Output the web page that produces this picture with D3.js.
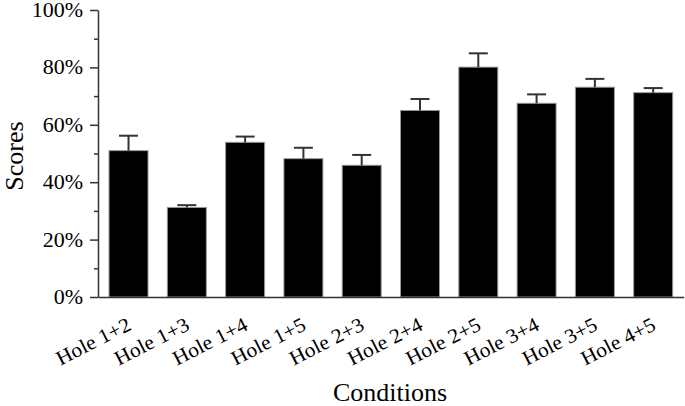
<!DOCTYPE html>
<html>
<head>
<meta charset="utf-8">
<script src="https://cdn.jsdelivr.net/npm/d3@7"></script>
<style>
html,body{margin:0;padding:0;background:#fff;}
svg text{font-family:"Times New Roman","Liberation Serif","DejaVu Serif",serif !important;fill:#000;}
</style>
</head>
<body>
<svg id="chart" width="685" height="406"></svg>
<script>
const categories = ["Hole 1+2","Hole 1+3","Hole 1+4","Hole 1+5","Hole 2+3","Hole 2+4","Hole 2+5","Hole 3+4","Hole 3+5","Hole 4+5"];
const scores = [0.51, 0.312, 0.539, 0.482, 0.459, 0.65, 0.801, 0.675, 0.731, 0.712];
const errors = [0.052, 0.008, 0.020, 0.038, 0.036, 0.040, 0.048, 0.031, 0.029, 0.016];
const yTicks = [0, 0.2, 0.4, 0.6, 0.8, 1.0];
const yMinorTicks = [0.1, 0.3, 0.5, 0.7, 0.9];

const FONT = "'Times New Roman', 'Liberation Serif', 'DejaVu Serif', serif";
const svg = d3.select("#chart");
const x0 = 98, x1 = 683.7, yBase = 297, yTop = 10;

const x = d3.scaleBand().domain(categories).range([x0, x1]).paddingInner(0.331).paddingOuter(0.189);
const y = d3.scaleLinear().domain([0, 1]).range([yBase, yTop]);

// bars
svg.append("g").selectAll("rect").data(categories).join("rect")
  .attr("x", d => x(d))
  .attr("y", (d,i) => y(scores[i]))
  .attr("width", x.bandwidth())
  .attr("height", (d,i) => y(0) - y(scores[i]))
  .attr("fill", "#000")
  .attr("stroke", "#999")
  .attr("stroke-width", 1);

// error bars
const eg = svg.append("g").attr("stroke", "#333").attr("stroke-width", 2);
categories.forEach((d,i) => {
  const cx = x(d) + x.bandwidth()/2;
  eg.append("line").attr("x1", cx).attr("x2", cx).attr("y1", y(scores[i])).attr("y2", y(scores[i]+errors[i]));
  eg.append("line").attr("x1", cx-9.5).attr("x2", cx+9.5).attr("y1", y(scores[i]+errors[i])).attr("y2", y(scores[i]+errors[i]));
});

// y axis
const yAxis = d3.axisLeft(y).tickValues(yTicks).tickSize(8).tickSizeOuter(0).tickPadding(6)
  .tickFormat(d => Math.round(d*100) + "%");
const ya = svg.append("g").attr("transform", `translate(${x0},0)`).call(yAxis);
ya.attr("font-family", FONT);
ya.select(".domain").attr("stroke", "#333").attr("stroke-width", 1.5);
ya.selectAll(".tick line").attr("stroke", "#333").attr("stroke-width", 1.5);
ya.selectAll(".tick text").attr("font-size", 20).style("font-family", FONT).attr("fill", "#000")
  .attr("x", 0).attr("transform", "translate(-15,0) scale(1.1,1)");
const yMinor = d3.axisLeft(y).tickValues(yMinorTicks).tickSize(4).tickSizeOuter(0).tickFormat("");
const ym = svg.append("g").attr("transform", `translate(${x0},0)`).call(yMinor);
ym.select(".domain").remove();
ym.selectAll(".tick line").attr("stroke", "#333").attr("stroke-width", 1.5);

// x axis
const xAxis = d3.axisBottom(x).tickSize(0).tickSizeOuter(0).tickPadding(0);
const xa = svg.append("g").attr("transform", `translate(0,${yBase})`).call(xAxis);
xa.attr("font-family", FONT);
xa.select(".domain").attr("stroke", "#333").attr("stroke-width", 1.5);
xa.selectAll(".tick text")
  .attr("font-size", 20.5).style("font-family", FONT)
  .attr("text-anchor", "end").attr("dy", null).attr("y", null)
  .attr("transform", "translate(4,32) rotate(-27) scale(1.05,1)");

// axis titles
svg.append("text").attr("x", 390).attr("y", 401).attr("text-anchor", "middle")
  .style("font-family", FONT).attr("font-size", 26).text("Conditions");
svg.append("text").attr("transform", "translate(23,156) rotate(-90)").attr("text-anchor", "middle")
  .style("font-family", FONT).attr("font-size", 26).text("Scores");
</script>
</body>
</html>
